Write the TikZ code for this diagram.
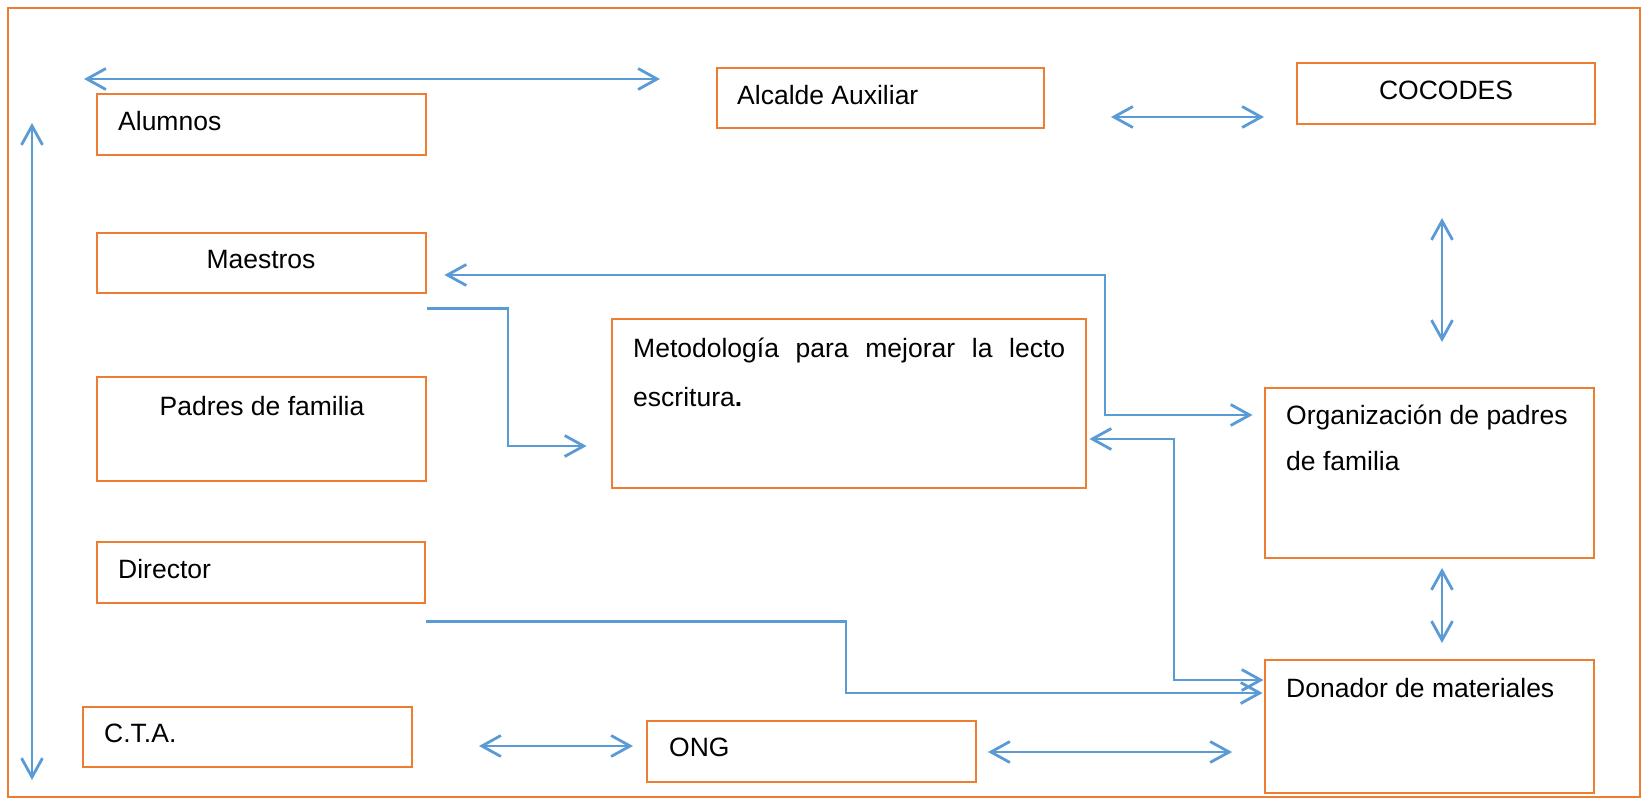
\documentclass[tikz,border=0pt]{standalone}
\usepackage{fontspec}
\setmainfont{Liberation Sans}
\usetikzlibrary{arrows.meta,fit,calc}
\definecolor{borange}{HTML}{ED7D31}
\definecolor{ablue}{HTML}{5B9BD5}
\tikzset{
  box/.style={draw=borange, line width=2.9pt, inner sep=0pt, fill=white},
  txt/.style={font=\fontsize{26.5}{30}\selectfont, inner sep=0pt, text=black},
  conn/.style={draw=ablue, line width=2.8pt, line join=miter},
  tipA/.tip={Straight Barb[length=19pt,width=21pt,line width=2.8pt]},
  dbl/.style={conn, tipA-tipA},
  sgl/.style={conn, -tipA}
}
\begin{document}
\begin{tikzpicture}[x=1pt,y=-1pt]
\useasboundingbox (0,0) rectangle (1648,800);
\draw[borange, line width=2.6pt] (8,8) rectangle (1640,797);

% boxes
\node[box, fit={(97,94)(426,155)}] (alumnos) {};
\node[box, fit={(717,68)(1044,128)}] (alcalde) {};
\node[box, fit={(1297,63)(1595,124)}] (cocodes) {};
\node[box, fit={(97,233)(426,293)}] (maestros) {};
\node[box, fit={(612,319)(1086,488)}] (metod) {};
\node[box, fit={(97,377)(426,481)}] (padres) {};
\node[box, fit={(1265,388)(1594,558)}] (org) {};
\node[box, fit={(97,542)(425,603)}] (director) {};
\node[box, fit={(1265,660)(1594,793)}] (donador) {};
\node[box, fit={(83,707)(412,767)}] (cta) {};
\node[box, fit={(647,721)(976,782)}] (ong) {};

% texts
\node[txt, anchor=base west] (alumnosT) at (118,130) {Alumnos};
\node[txt, anchor=base west] (alcaldeT) at (737,104) {Alcalde Auxiliar};
\node[txt, anchor=base] (cocodesT) at (1446,99) {COCODES};
\node[txt, anchor=base] (maestrosT) at (261,268) {Maestros};
\node[txt, anchor=base west] (metodT1) at (633,357) {\makebox[432pt][s]{Metodología para mejorar la lecto}};
\node[txt, anchor=base west] (metodT2) at (633,406) {escritura\textbf{.}};
\node[txt, anchor=base] (padresT) at (262,415) {Padres de familia};
\node[txt, anchor=base west] (orgT1) at (1286,424) {Organización de padres};
\node[txt, anchor=base west] (orgT2) at (1286,470) {de familia};
\node[txt, anchor=base west] (directorT) at (118,578) {Director};
\node[txt, anchor=base west] (donadorT) at (1286,697) {Donador de materiales};
\node[txt, anchor=base west] (ctaT) at (104,742) {C.T.A.};
\node[txt, anchor=base west] (ongT) at (669,756) {ONG};

% free arrow ends
\coordinate (topL) at (84,79);
\coordinate (topR) at (660,79);
\coordinate (leftT) at (32,123);
\coordinate (leftB) at (32,780);
\coordinate (acL) at (1111,117);
\coordinate (acR) at (1264,117);
\coordinate (coT) at (1442,218);
\coordinate (coB) at (1442,342);
\coordinate (odT) at (1442,568);
\coordinate (odB) at (1442,643);
\coordinate (coL) at (479,746);
\coordinate (coR) at (633,746);
\coordinate (onL) at (988,752);
\coordinate (onR) at (1232,752);

\draw[dbl] (topL) -- (topR);
\draw[dbl] (leftT) -- (leftB);
\draw[dbl] (acL) -- (acR);
\draw[dbl] (coT) -- (coB);
\draw[dbl] (odT) -- (odB);
\draw[dbl] (coL) -- (coR);
\draw[dbl] (onL) -- (onR);

% bend points
\coordinate (m1) at (1105,275);
\coordinate (m2) at (1105,415);
\coordinate (e1) at (508,446);
\coordinate (d1) at (1174,439);
\coordinate (d2) at (1174,680);
\coordinate (r1) at (846,693);

% Maestros <-> Organizacion
\draw[dbl] ([xshift=17pt,yshift=-12pt]maestros.east) -- (m1) -- (m2) -- ([xshift=-11pt]org.west |- m2);
% Maestros -> Metodologia
\draw[sgl] ([yshift=-14pt]maestros.south east) -| (e1) -- ([xshift=-24pt]metod.west |- e1);
% Metodologia <-> Donador
\draw[dbl] ([xshift=2pt]metod.east |- d1) -- (d1) -- (d2) -- (donador.west |- d2);
% Director -> Donador
\draw[sgl] ([yshift=-17pt]director.south east) -| (r1) -- ([xshift=-1pt]donador.west |- r1);
\end{tikzpicture}
\end{document}
